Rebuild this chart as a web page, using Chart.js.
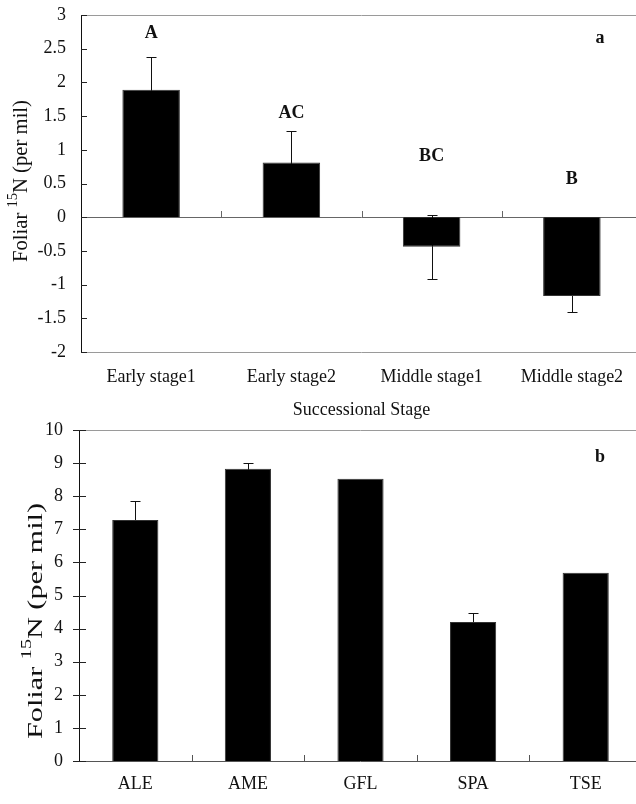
<!DOCTYPE html>
<html>
<head>
<meta charset="utf-8">
<script src="https://cdn.jsdelivr.net/npm/chart.js@4.4.0/dist/chart.umd.min.js"></script>
<style>
  html, body { margin: 0; padding: 0; background: #fff; overflow: hidden; }
  #wrap { width: 636px; height: 804px; overflow: hidden; }
  canvas { display: block; }
</style>
</head>
<body>
<div id="wrap">
  <canvas id="chartA" width="642" height="422"></canvas>
  <canvas id="chartB" width="642" height="382"></canvas>
</div>
<script>
// ── DATA ──────────────────────────────────────────────────
// panel a : successional stage
const stageLabels = ["Early stage1", "Early stage2", "Middle stage1", "Middle stage2"];
const stageMeans  = [1.89, 0.81, -0.44, -1.17];
const stageErrors = [0.49, 0.47, 0.47, 0.24];
const stageLetters = ["A", "AC", "BC", "B"];
const stageLetterAt = [2.73, 1.54, 0.9, 0.56];   // value where the letter sits
const stageTicks = { min: -2, max: 3, step: 0.5 };

// panel b : sites
const siteLabels = ["ALE", "AME", "GFL", "SPA", "TSE"];
const siteMeans  = [7.28, 8.83, 8.53, 4.20, 5.69];
const siteErrors = [0.56, 0.16, 0, 0.26, 0];
const siteTicks = { min: 0, max: 10, step: 1 };

const SERIF = '"Liberation Serif", "Times New Roman", serif';

// ── HELPERS ───────────────────────────────────────────────

function drawYTitle(ctx, cx, cy, size, len) {
  const parts = [
    { t: "Foliar ", f: size + "px " + SERIF, dy: 0 },
    { t: "15", f: Math.round(size * 0.68) + "px " + SERIF, dy: -size * 0.42 },
    { t: "N (per mil)", f: size + "px " + SERIF, dy: 0 },
  ];
  ctx.save();
  let total = 0;
  parts.forEach(p => { ctx.font = p.f; p.w = ctx.measureText(p.t).width; total += p.w; });
  ctx.translate(cx, cy);
  ctx.rotate(-Math.PI / 2);
  ctx.scale(len / total, 1);
  ctx.fillStyle = "#111";
  ctx.textBaseline = "middle";
  ctx.textAlign = "left";
  let x = -total / 2;
  parts.forEach(p => { ctx.font = p.f; ctx.fillText(p.t, x, p.dy); x += p.w; });
  ctx.restore();
}

function hLine(ctx, x1, x2, y, color) {
  ctx.strokeStyle = color;
  ctx.lineWidth = 1;
  ctx.beginPath();
  ctx.moveTo(x1, Math.round(y) + 0.5);
  ctx.lineTo(x2, Math.round(y) + 0.5);
  ctx.stroke();
}

// drawn before the bars, so the part inside each bar is hidden
function drawErrorBars(chart, means, errors) {
  const { ctx, scales: { x, y } } = chart;
  ctx.save();
  ctx.strokeStyle = "#111";
  ctx.lineWidth = 1;
  means.forEach((m, i) => {
    if (!errors[i]) return;
    const px = Math.round(x.getPixelForValue(i)) + 0.5;
    const yTop = Math.round(y.getPixelForValue(m + errors[i])) + 0.5;
    const yBot = Math.round(y.getPixelForValue(m - errors[i])) + 0.5;
    ctx.beginPath();
    ctx.moveTo(px, yTop); ctx.lineTo(px, yBot);
    ctx.moveTo(px - 5, yTop); ctx.lineTo(px + 5, yTop);
    ctx.moveTo(px - 5, yBot); ctx.lineTo(px + 5, yBot);
    ctx.stroke();
  });
  ctx.restore();
}

function categoryTicks(chart, yPix, up, color) {
  const { ctx, scales: { x } } = chart;
  ctx.save();
  ctx.strokeStyle = color;
  ctx.lineWidth = 1;
  for (let i = 1; i < x.ticks.length; i++) {
    const px = Math.round((x.getPixelForTick(i - 1) + x.getPixelForTick(i)) / 2) + 0.5;
    ctx.beginPath();
    ctx.moveTo(px, yPix);
    ctx.lineTo(px, yPix - up);
    ctx.stroke();
  }
  ctx.restore();
}

function valueTicks(chart, left, right, color) {
  const { ctx, scales: { y } } = chart;
  const ax = chart.chartArea.left;
  ctx.save();
  ctx.strokeStyle = color;
  ctx.lineWidth = 1;
  y.ticks.forEach(t => {
    const py = Math.round(y.getPixelForValue(t.value)) + 0.5;
    ctx.beginPath();
    ctx.moveTo(ax - left, py);
    ctx.lineTo(ax + right, py);
    ctx.stroke();
  });
  ctx.restore();
}

const plainNumber = v => String(+Number(v).toFixed(1));

// keep the plot area exactly where the layout padding puts it
function noScalePadding(s) {
  s.paddingTop = 0; s.paddingBottom = 0; s.paddingLeft = 0; s.paddingRight = 0;
}

// ── PANEL A ───────────────────────────────────────────────

const decorA = {
  id: "decorA",
  beforeDatasetsDraw(chart) {
    const { ctx, chartArea: a, scales: { y } } = chart;
    ctx.save();
    hLine(ctx, a.left, a.right, a.top, "#9a9a9a");
    hLine(ctx, a.left, a.right, a.bottom, "#9a9a9a");
    hLine(ctx, a.left, a.right, y.getPixelForValue(0), "#666");
    ctx.restore();
    drawErrorBars(chart, stageMeans, stageErrors);
  },
  afterDatasetsDraw(chart) {
    const { ctx, chartArea: a, scales: { x, y } } = chart;
    categoryTicks(chart, Math.round(y.getPixelForValue(0)), 6, "#666");
    valueTicks(chart, 0, 6, "#222");
    ctx.save();
    ctx.fillStyle = "#111";
    ctx.font = "bold 18px " + SERIF;
    ctx.textAlign = "center";
    ctx.textBaseline = "middle";
    stageLetters.forEach((l, i) => {
      ctx.fillText(l, x.getPixelForValue(i), y.getPixelForValue(stageLetterAt[i]));
    });
    ctx.fillText("a", a.right - 42, a.top + 23);
    ctx.restore();
    drawYTitle(ctx, 22, 181, 20, 162);
  },
};

new Chart(document.getElementById("chartA"), {
  type: "bar",
  data: {
    labels: stageLabels,
    datasets: [{
      data: stageMeans,
      backgroundColor: "#000",
      borderColor: "#333",
      borderWidth: 1,
      barPercentage: 0.41,
      categoryPercentage: 1,
    }],
  },
  options: {
    responsive: false,
    animation: false,
    layout: { padding: { top: 15, left: 0, right: 0, bottom: 0 } },
    plugins: { legend: { display: false }, tooltip: { enabled: false } },
    scales: {
      x: {
        grid: { display: false, drawTicks: false },
        border: { display: false },
        ticks: { color: "#111", font: { family: SERIF, size: 18 }, padding: 14 },
        title: { display: true, text: "Successional Stage", color: "#111",
                 font: { family: SERIF, size: 18 }, padding: { top: 0, bottom: 1 } },
        afterFit(s) { s.height = 70; noScalePadding(s); },
      },
      y: {
        min: stageTicks.min, max: stageTicks.max,
        grid: { display: false, drawTicks: false },
        border: { display: true, color: "#111", width: 1 },
        ticks: { stepSize: stageTicks.step, color: "#111", font: { family: SERIF, size: 18 },
                 padding: 15, callback: plainNumber },
        afterFit(s) { s.width = 81; noScalePadding(s); },
      },
    },
  },
  plugins: [decorA],
});

// ── PANEL B ───────────────────────────────────────────────

const decorB = {
  id: "decorB",
  beforeDatasetsDraw(chart) {
    const { ctx, chartArea: a } = chart;
    ctx.save();
    hLine(ctx, a.left, a.right, a.top, "#9a9a9a");
    ctx.restore();
    drawErrorBars(chart, siteMeans, siteErrors);
  },
  afterDatasetsDraw(chart) {
    const { ctx, chartArea: a } = chart;
    ctx.save();
    hLine(ctx, a.left, a.right, a.bottom, "#555");
    ctx.restore();
    categoryTicks(chart, Math.round(a.bottom), 6, "#555");
    valueTicks(chart, 6, 7, "#222");
    ctx.save();
    ctx.fillStyle = "#111";
    ctx.font = "bold 18px " + SERIF;
    ctx.textAlign = "center";
    ctx.textBaseline = "middle";
    ctx.fillText("b", a.right - 42, a.top + 27);
    ctx.restore();
    drawYTitle(ctx, 36, 199, 21, 236);
  },
};

new Chart(document.getElementById("chartB"), {
  type: "bar",
  data: {
    labels: siteLabels,
    datasets: [{
      data: siteMeans,
      backgroundColor: "#000",
      borderColor: "#333",
      borderWidth: 1,
      barPercentage: 0.41,
      categoryPercentage: 1,
    }],
  },
  options: {
    responsive: false,
    animation: false,
    layout: { padding: { top: 8, left: 0, right: 0, bottom: 0 } },
    plugins: { legend: { display: false }, tooltip: { enabled: false } },
    scales: {
      x: {
        grid: { display: false, drawTicks: false },
        border: { display: false },
        ticks: { color: "#111", font: { family: SERIF, size: 18 }, padding: 12 },
        afterFit(s) { s.height = 43; noScalePadding(s); },
      },
      y: {
        min: siteTicks.min, max: siteTicks.max,
        grid: { display: false, drawTicks: false },
        border: { display: true, color: "#111", width: 1 },
        ticks: { stepSize: siteTicks.step, color: "#111", font: { family: SERIF, size: 18 }, padding: 16 },
        afterFit(s) { s.width = 79; noScalePadding(s); },
      },
    },
  },
  plugins: [decorB],
});
</script>
</body>
</html>
